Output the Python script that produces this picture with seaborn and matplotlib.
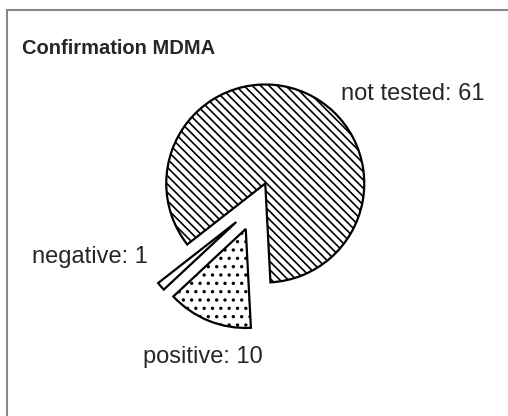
import matplotlib
matplotlib.use("Agg")
import matplotlib.pyplot as plt
import seaborn as sns
from matplotlib.patches import Rectangle

# data
categories = ["not tested", "negative", "positive"]
counts = [61, 1, 10]
hatches = ["\\\\\\\\", "", ".."]
title = "Confirmation MDMA"

sns.set_style("white")
plt.rcParams["font.family"] = ["Liberation Sans", "DejaVu Sans"]
plt.rcParams["hatch.linewidth"] = 1.2
plt.rcParams["hatch.color"] = "black"

W, H = 508, 416
fig = plt.figure(figsize=(W / 100, H / 100), dpi=100)

# pie centre / radius in pixels
cx, cy, r = 255, 206, 99
half = 1.5
ax = fig.add_axes([(cx - half * r) / W, (H - cy - half * r) / H,
                   2 * half * r / W, 2 * half * r / H])

wedges, _ = ax.pie(counts, startangle=-87, counterclock=True,
                   explode=[0.25, 0.25, 0.25],
                   colors=["white"] * 3,
                   wedgeprops=dict(edgecolor="black", linewidth=1.6))
for w, h in zip(wedges, hatches):
    w.set_hatch(h)

ax.set_xlim(-half, half)
ax.set_ylim(-half, half)
ax.set_aspect("equal")
ax.axis("off")

# labels
label_pos = [(0.87, 1.13, "left"), (-1.08, -0.515, "right"), (-0.53, -1.525, "center")]
for (x, y, ha), cat, n in zip(label_pos, categories, counts):
    ax.text(x, y, f"{cat}: {n}", ha=ha, va="center", fontsize=17)

fig.text(22 / W, 1 - 49 / H, title, fontsize=14.5, fontweight="bold",
         va="center", ha="left")

# outer frame (runs off the right and bottom edges)
fig.add_artist(Rectangle((7 / W, -0.1), 1.2, 1 - 9.5 / H + 0.1,
                         transform=fig.transFigure, fill=False,
                         edgecolor="#888888", linewidth=1.5))

fig.savefig("out.png", dpi=100)
